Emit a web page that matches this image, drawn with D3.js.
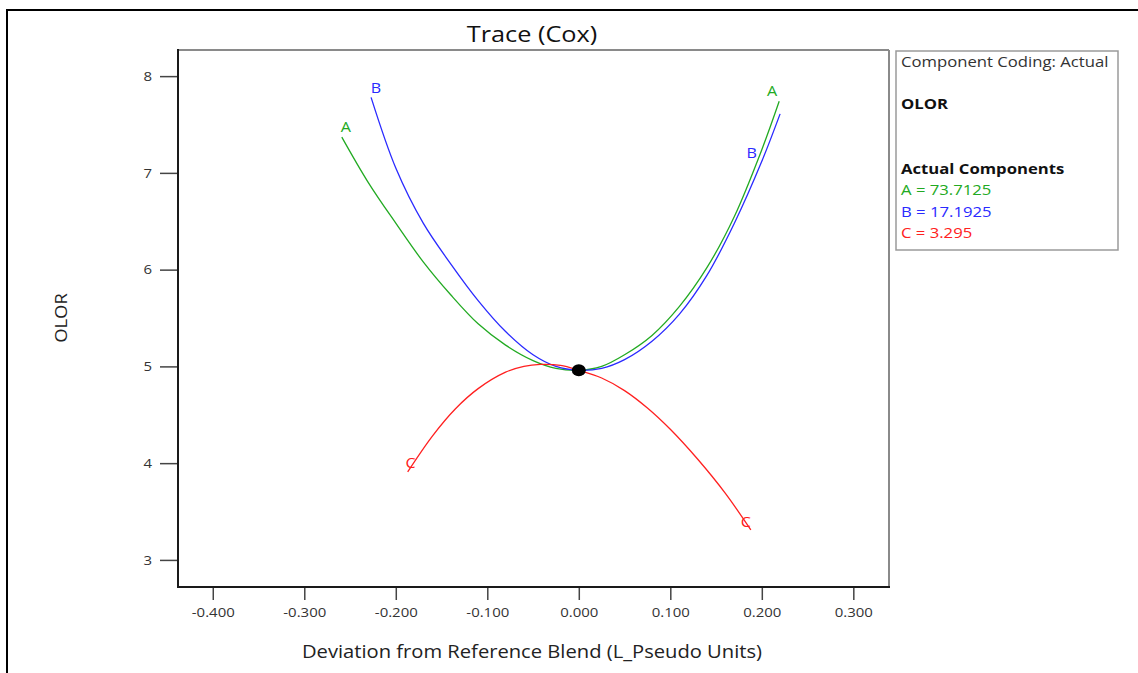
<!DOCTYPE html>
<html>
<head>
<meta charset="utf-8">
<script src="https://cdn.jsdelivr.net/npm/d3@7"></script>
<style>
  html, body { margin: 0; padding: 0; background: #fff; }
  svg { display: block; font-family: "Open Sans", "Noto Sans", sans-serif; }
</style>
</head>
<body>
<svg id="chart" width="1138" height="673"></svg>
<script>
// Trace (Cox) for response OLOR: deviation from reference blend vs predicted response
const seriesNames = ["A", "B", "C"];

const xA = [-0.259, -0.23, -0.20, -0.17, -0.14, -0.11, -0.08, -0.05, -0.025, 0, 0.025, 0.05, 0.08, 0.11, 0.14, 0.17, 0.20, 0.219];
const yA = [7.37, 6.90, 6.48, 6.08, 5.74, 5.44, 5.22, 5.06, 4.98, 4.96, 5.00, 5.12, 5.32, 5.62, 6.02, 6.55, 7.24, 7.74];

const xB = [-0.227, -0.20, -0.17, -0.14, -0.11, -0.08, -0.05, -0.025, 0, 0.025, 0.05, 0.08, 0.11, 0.14, 0.17, 0.20, 0.220];
const yB = [7.78, 7.05, 6.48, 6.06, 5.68, 5.36, 5.12, 5.00, 4.96, 4.98, 5.07, 5.26, 5.54, 5.94, 6.48, 7.12, 7.61];

const xC = [-0.187, -0.16, -0.135, -0.11, -0.08, -0.06, -0.042, -0.02, 0, 0.025, 0.05, 0.075, 0.10, 0.13, 0.16, 0.188];
const yC = [3.91, 4.28, 4.56, 4.77, 4.94, 5.00, 5.02, 5.01, 4.96, 4.88, 4.75, 4.57, 4.35, 4.04, 3.69, 3.31];

const referencePoint = [0, 4.96];

const xTicks = [-0.4, -0.3, -0.2, -0.1, 0, 0.1, 0.2, 0.3];
const xTickLabels = ["-0.400", "-0.300", "-0.200", "-0.100", "0.000", "0.100", "0.200", "0.300"];
const yTicks = [3, 4, 5, 6, 7, 8];
const yTickLabels = ["3", "4", "5", "6", "7", "8"];

const legendHeader = "Component Coding: Actual";
const responseName = "OLOR";
const componentsHeader = "Actual Components";
const componentValues = ["73.7125", "17.1925", "3.295"];

// ---- styling / layout ----
const colors = { A: "#22aa22", B: "#2a2aff", C: "#ff2020" };
const box = { left: 178, right: 889, top: 50, bottom: 587 };
const WIDEN = 1.15; // horizontal glyph stretch for all text

function widen(sel, f = WIDEN) {
  sel.each(function () {
    const w = this.getComputedTextLength();
    d3.select(this).attr("textLength", w * f).attr("lengthAdjust", "spacingAndGlyphs");
  });
  return sel;
}

const svg = d3.select("#chart");

// outer frame
svg.append("rect")
  .attr("x", 7).attr("y", 10).attr("width", 1140).attr("height", 680)
  .attr("fill", "none").attr("stroke", "#000").attr("stroke-width", 2);

const x = d3.scaleLinear().domain([-0.438, 0.339]).range([box.left, box.right]);
const y = d3.scaleLinear().domain([2.72, 8.27]).range([box.bottom, box.top]);

// plot box: top/right grey, left/bottom dark
svg.append("line").attr("x1", box.left).attr("x2", box.right).attr("y1", box.top).attr("y2", box.top)
  .attr("stroke", "#8a8a8a").attr("stroke-width", 2);
svg.append("line").attr("x1", box.right).attr("x2", box.right).attr("y1", box.top).attr("y2", box.bottom)
  .attr("stroke", "#8a8a8a").attr("stroke-width", 2);
svg.append("line").attr("x1", box.left).attr("x2", box.left).attr("y1", box.top - 1).attr("y2", box.bottom + 1)
  .attr("stroke", "#1a1a1a").attr("stroke-width", 2);
svg.append("line").attr("x1", box.left - 1).attr("x2", box.right + 1).attr("y1", box.bottom).attr("y2", box.bottom)
  .attr("stroke", "#1a1a1a").attr("stroke-width", 2);

// x axis
const xAxis = svg.append("g").attr("transform", `translate(0,${box.bottom + 1})`)
  .call(d3.axisBottom(x).tickValues(xTicks).tickSize(12).tickPadding(8)
    .tickFormat((d, i) => xTickLabels[i]));
xAxis.select(".domain").remove();
xAxis.selectAll("line").attr("stroke", "#444").attr("stroke-width", 1.5);
widen(xAxis.selectAll("text").attr("fill", "#333").style("font-size", "13px")
  .style("font-family", "'Open Sans', sans-serif"));

// y axis
const yAxis = svg.append("g").attr("transform", `translate(${box.left - 1},0)`)
  .call(d3.axisLeft(y).tickValues(yTicks).tickSize(17).tickPadding(8)
    .tickFormat((d, i) => yTickLabels[i]));
yAxis.select(".domain").remove();
yAxis.selectAll("line").attr("stroke", "#444").attr("stroke-width", 1.5);
widen(yAxis.selectAll("text").attr("fill", "#333").style("font-size", "13px")
  .style("font-family", "'Open Sans', sans-serif"));

// titles
widen(svg.append("text").attr("x", 532).attr("y", 42).attr("text-anchor", "middle")
  .style("font-size", "22px").attr("fill", "#111").text("Trace (Cox)"));
widen(svg.append("text").attr("x", 532).attr("y", 658).attr("text-anchor", "middle")
  .style("font-size", "18px").attr("fill", "#222")
  .text("Deviation from Reference Blend (L_Pseudo Units)"), 1.12);
widen(svg.append("text").attr("transform", "translate(67,318) rotate(-90)").attr("text-anchor", "middle")
  .style("font-size", "16px").attr("fill", "#222").text(responseName));

// trace curves
const traces = [
  { name: seriesNames[0], xs: xA, ys: yA },
  { name: seriesNames[1], xs: xB, ys: yB },
  { name: seriesNames[2], xs: xC, ys: yC }
];
const line = d3.line().x(d => x(d[0])).y(d => y(d[1])).curve(d3.curveCatmullRom.alpha(0.5));

const plot = svg.append("g");
traces.forEach(t => {
  const pts = t.xs.map((v, i) => [v, t.ys[i]]);
  plot.append("path").datum(pts).attr("d", line)
    .attr("fill", "none").attr("stroke", colors[t.name]).attr("stroke-width", 1.3);
});

// curve labels, anchored on curve points
const labelSpots = [
  { s: 0, at: "first", dx: 4, dy: -5 },
  { s: 0, at: "last", dx: -7, dy: -5 },
  { s: 1, at: "first", dx: 5, dy: -4 },
  { s: 1, at: 15, dx: -10, dy: -3 },
  { s: 2, at: "first", dx: 3, dy: -4 },
  { s: 2, at: "last", dx: -5, dy: -3 }
];
labelSpots.forEach(l => {
  const t = traces[l.s];
  const i = l.at === "first" ? 0 : l.at === "last" ? t.xs.length - 1 : l.at;
  widen(plot.append("text")
    .attr("x", x(t.xs[i]) + l.dx).attr("y", y(t.ys[i]) + l.dy)
    .attr("text-anchor", "middle").style("font-size", "14px")
    .attr("fill", colors[t.name]).text(t.name));
});

// reference blend point
plot.append("ellipse")
  .attr("cx", x(referencePoint[0])).attr("cy", y(referencePoint[1]))
  .attr("rx", 7).attr("ry", 6).attr("fill", "#000");

// legend
const lg = svg.append("g");
lg.append("rect").attr("x", 896).attr("y", 51).attr("width", 222).attr("height", 199)
  .attr("fill", "#fff").attr("stroke", "#9a9a9a").attr("stroke-width", 1.5);
widen(lg.append("text").attr("x", 901).attr("y", 67).style("font-size", "14.5px").attr("fill", "#333")
  .text(legendHeader));
widen(lg.append("text").attr("x", 901).attr("y", 109).style("font-size", "14.5px").style("font-weight", "bold")
  .attr("fill", "#111").text(responseName));
widen(lg.append("text").attr("x", 901).attr("y", 174).style("font-size", "14.5px").style("font-weight", "bold")
  .attr("fill", "#111").text(componentsHeader));
seriesNames.forEach((n, i) => {
  widen(lg.append("text").attr("x", 901).attr("y", 195 + i * 21.5).style("font-size", "14.5px")
    .attr("fill", colors[n]).text(`${n} = ${componentValues[i]}`));
});
</script>
</body>
</html>
